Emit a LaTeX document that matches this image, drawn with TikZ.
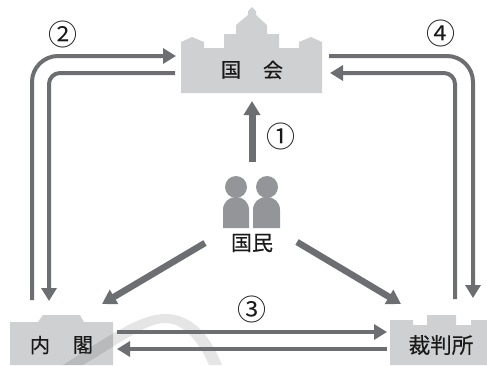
\documentclass[tikz,border=0pt]{standalone}
\usepackage{fontspec}
\usetikzlibrary{arrows.meta}
\setmainfont[FakeBold=0.4]{Noto Sans CJK JP}
\newfontfamily\numfont{Noto Sans CJK JP}
\definecolor{housegray}{HTML}{CFD0D2}
\definecolor{linegray}{HTML}{6D6E71}
\definecolor{peoplegray}{HTML}{939598}
\tikzstyle{label}=[inner sep=0pt,text=black!90,font=\fontsize{20pt}{20pt}\selectfont]
\tikzstyle{number}=[inner sep=0pt,text=black!90,font=\numfont\fontsize{29pt}{29pt}\selectfont]
\tikzstyle{house}=[fill=housegray,draw=none]
\tikzstyle{thin}=[draw=linegray,line width=4pt,-{Triangle[length=13pt,width=15pt]}]
\tikzstyle{thick}=[draw=linegray,line width=6.5pt,-{Triangle[length=14pt,width=16pt]}]
\begin{document}
\begin{tikzpicture}[x=1pt,y=-1pt]
		\useasboundingbox (0,0) rectangle (487,365);
		% buildings
		\fill[house] (181,93)--(181,42)--(192,37)--(204,42)--(204,48)--(224,48)--(224,34)--(236,34)--(236,25)--(248,15)--(248,11)--(252,7)--(256,11)--(256,15)--(267,25)--(267,34)--(279,34)--(279,48)--(299,48)--(299,42)--(311,37)--(322,42)--(322,93)--cycle;
		\fill[house] (10,365)--(10,322)--(38,322)--(43,315)--(80,315)--(84,322)--(113,322)--(113,365)--cycle;
		\fill[house] (390,365)--(390,320)--(413,320)--(413,325)--(427,325)--(427,315)--(456,315)--(456,325)--(471,325)--(471,320)--(487,320)--(487,365)--cycle;
		% background band
		\fill[black,opacity=0.1] (63,365) .. controls (110,335) and (140,314) .. (165,314) .. controls (192,314) and (210,335) .. (222,365)--(209,365) .. controls (197,338) and (182,323) .. (165,323) .. controls (147,323) and (125,340) .. (83,365)--cycle;
		% people
		\fill[peoplegray] (236,187) circle (11);
		\fill[peoplegray] (267,187) circle (11);
		\fill[peoplegray] (223,228)--(223,210) .. controls (223,202) and (229,197) .. (236,197) .. controls (243,197) and (249,202) .. (249,210)--(249,228)--cycle;
		\fill[peoplegray] (253,228)--(253,210) .. controls (253,202) and (259,197) .. (266.5,197) .. controls (274,197) and (280,202) .. (280,210)--(280,228)--cycle;
		% labels
		\node[label] (koku) at (231,70){国};
		\node[label] (kai) at (273,70){会};
		\node[label,font=\fontsize{21pt}{21pt}\selectfont] (kokumin) at (252,243){国民};
		\node[label] (nai) at (40,345){内};
		\node[label] (kaku) at (83,345){閣};
		\node[label,font=\fontsize{21.5pt}{21.5pt}\selectfont] (saibansho) at (441,345){裁判所};
		\node[number] (one) at (281,136){①};
		\node[number] (two) at (63,34){②};
		\node[number] (three) at (252,309){③};
		\node[number] (four) at (441,33){④};
		% connector ends
		\coordinate (people_top) at (252,162);
		\coordinate (diet_bottom) at (252,101);
		\coordinate (people_left) at (205,243);
		\coordinate (people_right) at (297,242);
		\coordinate (cabinet_tip) at (102,304);
		\coordinate (court_tip) at (401,304);
		\coordinate (cabinet_up) at (32,300);
		\coordinate (diet_in_a) at (176,56);
		\coordinate (diet_out_a) at (175,73);
		\coordinate (cabinet_down) at (49,301);
		\coordinate (diet_out_b) at (329,56);
		\coordinate (court_down) at (473,298);
		\coordinate (court_up) at (455,299);
		\coordinate (diet_in_b) at (330,73);
		\coordinate (cabinet_right) at (117,332);
		\coordinate (court_in) at (387,332);
		\coordinate (court_left) at (387,349);
		\coordinate (cabinet_in) at (117,349);
		% connectors
		\draw[thick,line width=7pt] (people_top)--(diet_bottom);
		\draw[thick] (people_left)--(cabinet_tip);
		\draw[thick] (people_right)--(court_tip);
		\draw[thin,rounded corners=26pt] (cabinet_up)|-(diet_in_a);
		\draw[thin,rounded corners=11pt] (diet_out_a)-|(cabinet_down);
		\draw[thin,rounded corners=26pt] (diet_out_b)-|(court_down);
		\draw[thin,rounded corners=11pt] (court_up)|-(diet_in_b);
		\draw[thin] (cabinet_right)--(court_in);
		\draw[thin] (court_left)--(cabinet_in);
	\end{tikzpicture}
\end{document}
